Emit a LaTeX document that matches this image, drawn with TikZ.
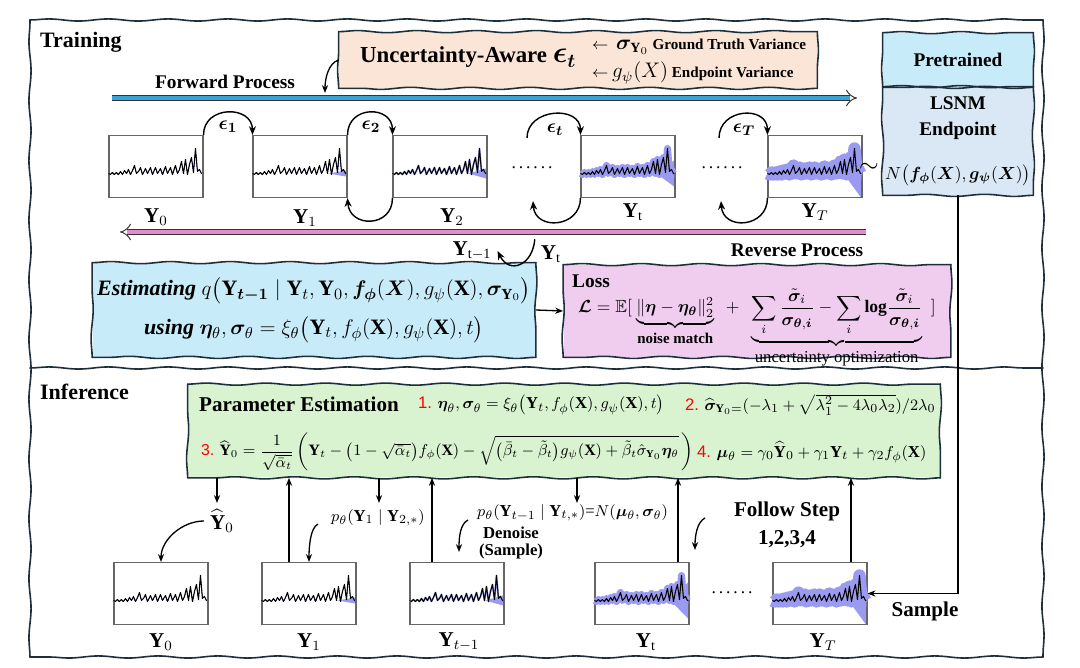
\documentclass[tikz,border=0pt]{standalone}
\usepackage{amsmath,amssymb,bm}
\usepackage{fontspec}
\setmainfont{Liberation Serif}
\newfontfamily\numfont{Liberation Sans}
\usetikzlibrary{arrows.meta,decorations.pathmorphing,positioning}

\definecolor{peach}{HTML}{FBE5D6}
\definecolor{skyfill}{HTML}{C8EBF9}
\definecolor{lsnmfill}{HTML}{DAE8F6}
\definecolor{lossfill}{HTML}{F0CCEF}
\definecolor{paramfill}{HTML}{D9F2D0}
\definecolor{fwdblue}{HTML}{3BA3D8}
\definecolor{revpink}{HTML}{E58CCF}
\definecolor{bandblue}{HTML}{9A9AF0}
\definecolor{edge}{HTML}{1E2F3C}

\def\fsz#1{\fontsize{#1}{#1}\selectfont}
\newcommand\stepno[1]{{\numfont\color{red}#1}}

% one noisy series, px units, baseline 7px under the box centre
\def\tspts{plot coordinates {(0,7) (2,8) (4,6) (6,8) (8,6) (10,8) (12,5) (14,8) (16,4) (18,7) (20,3) (22,8) (24,4) (26,-1) (28,7) (30,5) (32,1) (34,8) (37,2) (39,7) (42,1) (44,8) (47,1) (49,7) (52,2) (54,8) (57,0) (59,7) (62,1) (64,8) (67,-1) (69,7) (71,3) (73,-5) (75,7) (77,-7) (79,8) (81,-2) (83,-9) (85,6) (87,-18) (89,5) (91,3) (93,7) (94,7)}}

\newcommand\tschart[4]{%
  \node[chart] (#1) at (#2) {};
  \begin{scope}[shift={(#1.west)}]
    \fill[bandblue] (76,7) -- (93.5,{7-#4}) -- (93.5,{7+#4}) -- cycle;
    \draw[bandblue, line width=#3, line join=round] \tspts;
    \draw[line width=.6pt, line join=round] \tspts;
  \end{scope}}

% hand drawn border, one side at a time
\newcommand\sketchbox[1]{%
  \draw[sketch] (#1.north west) -- (#1.north east);
  \draw[sketch] (#1.north east) -- (#1.south east);
  \draw[sketch] (#1.south east) -- (#1.south west);
  \draw[sketch] (#1.south west) -- (#1.north west);}

\begin{document}
\begin{tikzpicture}[x=0.02cm, y=-0.02cm,
  sketch/.style={draw=edge, line width=.9pt, line cap=round, decorate, decoration={snake, amplitude=.6pt, segment length=34pt}},
  panel/.style 2 args={minimum width=#1*0.02cm, minimum height=#2*0.02cm, inner sep=0pt},
  chart/.style={draw=black!60, line width=.6pt, minimum width=94*0.02cm, minimum height=62*0.02cm, inner sep=0pt},
  epsarc/.style={-{Stealth[length=5pt,width=4pt]}, line width=.8pt},
  thinarrow/.style={-{Stealth[length=4.5pt,width=3.5pt]}, line width=.75pt},
  fwdbar/.style={draw=black!80, line width=.55pt, double=fwdblue, double distance=2.8pt, -{Implies}},
  revbar/.style={draw=black!80, line width=.55pt, double=revpink, double distance=2.8pt, -{Implies}},
  head/.style={font=\bfseries\fsz{12.5}},
  lbl/.style={font=\bfseries\fsz{11}},
  ylbl/.style={font=\fsz{12}},
  formula/.style={inner sep=1pt}]

  \useasboundingbox (0,0) rectangle (1080,668);
  \fill[white] (0,0) rectangle (1080,668);

  % frames
  \coordinate (fa) at (30,20);
  \coordinate (fb) at (1043,20);
  \coordinate (fc) at (1043,657);
  \coordinate (fd) at (30,657);
  \coordinate (ml) at (30,368);
  \coordinate (mr) at (1043,368);
  \draw[sketch] (fa) -- (fb);
  \draw[sketch] (fb) -- (fc);
  \draw[sketch] (fc) -- (fd);
  \draw[sketch] (fd) -- (fa);
  \draw[sketch] (ml) -- (mr);

  % training
  \node[head, anchor=west] (train) at (34,42) {Training};
  \node[panel={478}{56}, fill=peach] (unc) at (578,60) {};
  \sketchbox{unc}
  \node[anchor=west, font=\bfseries\fsz{13}] (unctxt) at (354,57) {Uncertainty-Aware {\fsz{16}$\bm{\epsilon_t}$}};
  \node[anchor=west, font=\bfseries\fsz{8.6}] (gtv) at (586,47) {$\leftarrow$\ \ {\fsz{12}$\bm{\sigma}_{\mathbf{Y}_0}$} Ground Truth Variance};
  \node[anchor=west, font=\bfseries\fsz{8.6}] (epv) at (586,73) {$\leftarrow$ {\fsz{12}$g_{\psi}(X)$} Endpoint Variance};

  \coordinate (fs) at (112,98);
  \coordinate (fe) at (857,98);
  \draw[fwdbar] (fs) -- (fe);
  \node[lbl] (fwd) at (225,82) {Forward Process};
  \coordinate (uncend) at (325,93);
  \draw[thinarrow] (unc.west) .. controls +(-10,3) and +(0,-15) .. (uncend);

  \tschart{Y0t}{156,166.5}{0pt}{0}
  \tschart{Y1t}{300,166.5}{0pt}{3}
  \tschart{Y2t}{440,166.5}{1pt}{5}
  \tschart{Ytt}{628,166.5}{4pt}{13}
  \tschart{YTt}{815,166.5}{7pt}{24}

  \node[ylbl] (y0t) at (156,217) {$\mathbf{Y}_0$};
  \node[ylbl] (y1t) at (305,218) {$\mathbf{Y}_1$};
  \node[ylbl] (y2t) at (452,217) {$\mathbf{Y}_2$};
  \node[ylbl] (ytt) at (633,212) {$\mathbf{Y}_{\mathrm{t}}$};
  \node[ylbl] (yTt) at (815,212) {$\mathbf{Y}_T$};

  \node (dots1) at (532,168) {.\,.\,.\,.\,.\,.};
  \node (dots2) at (722,168) {.\,.\,.\,.\,.\,.};

  \coordinate (et) at (527,138);
  \coordinate (eT) at (719,138);
  \coordinate (lt) at (533,201);
  \coordinate (lT) at (721,201);
  \draw[epsarc] (Y0t.north east) .. controls +(0,-30) and +(0,-30) .. (Y1t.north west);
  \draw[epsarc] (Y1t.north east) .. controls +(0,-30) and +(0,-30) .. (Y2t.north west);
  \draw[epsarc] (et) .. controls +(0,-30) and +(0,-30) .. (Ytt.north west);
  \draw[epsarc] (eT) .. controls +(0,-30) and +(0,-30) .. (YTt.north west);
  \draw[epsarc] (Y2t.south west) .. controls +(0,30) and +(2,30) .. (Y1t.south east);
  \draw[epsarc] (Ytt.south west) .. controls +(0,30) and +(2,30) .. (lt);
  \draw[epsarc] (YTt.south west) .. controls +(0,30) and +(2,30) .. (lT);
  \node[font=\fsz{11}] (e1) at (228,127) {$\bm{\epsilon_1}$};
  \node[font=\fsz{11}] (e2) at (371,127) {$\bm{\epsilon_2}$};
  \node[font=\fsz{11}] (et l) at (555,130) {$\bm{\epsilon_t}$};
  \node[font=\fsz{11}] (eT l) at (744,130) {$\bm{\epsilon_T}$};

  % pretrained endpoint
  \node[panel={150}{54}, fill=skyfill, lbl] (pre) at (958,60) {Pretrained};
  \node[panel={150}{108}, fill=lsnmfill, align=center, font=\fsz{10}] (lsnm) at (958,141)
    {{\fsz{11}\textbf{LSNM}}\\[5pt]{\fsz{11}\textbf{Endpoint}}\\[13pt]$N\bigl(\bm{f}_{\bm{\phi}}(\bm{X}),\bm{g}_{\bm{\psi}}(\bm{X})\bigr)$};
  \sketchbox{pre}
  \sketchbox{lsnm}
  \node[font=\fsz{14}] (tilde) at (869,168) {$\sim$};

  % reverse process
  \coordinate (rs) at (866,232);
  \coordinate (re) at (120,232);
  \draw[revbar] (rs) -- (re);
  \node[lbl] (revl) at (797,250) {Reverse Process};

  % estimation and loss
  \node[panel={443}{94}, fill=skyfill, align=center, font=\fsz{12.5}] (est) at (314,310)
    {\textbf{\textit{Estimating}} $q\bigl(\mathbf{Y}_{\bm{t-1}}\mid\mathbf{Y}_t,\mathbf{Y}_0,\bm{f}_{\bm{\phi}}(\bm{X}),g_\psi(\mathbf{X}),\bm{\sigma}_{\mathbf{Y}_0}\bigr)$\\[6pt]
     \textbf{\textit{using}} $\bm{\eta}_\theta,\bm{\sigma}_\theta=\xi_\theta\bigl(\mathbf{Y}_t,f_\phi(\mathbf{X}),g_\psi(\mathbf{X}),t\bigr)$};
  \sketchbox{est}
  \node[ylbl] (ytm) at (472,251) {$\mathbf{Y}_{\mathrm{t-1}}$};
  \node[ylbl] (ytr) at (551,254) {$\mathbf{Y}_{\mathrm{t}}$};
  \draw[epsarc] (ytr.north west) .. controls +(-2,26) and +(12,24) .. (ytm.east);

  \node[panel={387}{92}, fill=lossfill] (loss) at (757,311) {};
  \sketchbox{loss}
  \node[lbl, anchor=west] (losst) at (566,281) {Loss};
  \node[formula, anchor=base, font=\fsz{10}] (lossf) at (757,313)
    {$\displaystyle\bm{\mathcal{L}}=\mathbb{E}[\ \underbrace{\|\bm{\eta}-\bm{\eta}_{\bm{\theta}}\|_2^2}_{\textbf{\fsz{8.5}noise match}}\ \ +\ \ \underbrace{\sum_i\frac{\tilde{\bm{\sigma}}_i}{\bm{\sigma}_{\bm{\theta},\bm{i}}}-\sum_i\mathbf{log}\frac{\tilde{\bm{\sigma}}_i}{\bm{\sigma}_{\bm{\theta},\bm{i}}}}_{\text{\fsz{9.5}uncertainty optimization}}\ \ ]$};
  \draw[thinarrow] (est.east) -- (loss.west);

  % inference
  \node[head, anchor=west] (infer) at (34,392) {Inference};
  \node[panel={752}{93}, fill=paramfill] (param) at (564,431) {};
  \sketchbox{param}
  \node[anchor=west, font=\bfseries\fsz{12}] (pe) at (193,404) {Parameter Estimation};
  \node[formula, anchor=west, font=\fsz{9.5}] (s1) at (416,405)
    {\stepno{1.} $\bm{\eta}_\theta,\bm{\sigma}_\theta=\xi_\theta\bigl(\mathbf{Y}_t,f_\phi(\mathbf{X}),g_\psi(\mathbf{X}),t\bigr)$};
  \node[formula, anchor=west, font=\fsz{9.5}] (s2) at (683,405)
    {\stepno{2.} $\widehat{\bm{\sigma}}_{\mathbf{Y}_0=}(-\lambda_1+\sqrt{\lambda_1^2-4\lambda_0\lambda_2})/2\lambda_0$};
  \node[formula, anchor=west, font=\fsz{9}] (s3) at (199,452)
    {\stepno{3.} $\widehat{\mathbf{Y}}_0=\dfrac{1}{\sqrt{\bar{\alpha}_t}}\left(\mathbf{Y}_t-\bigl(1-\sqrt{\bar{\alpha}_t}\bigr)f_\phi(\mathbf{X})-\sqrt{\bigl(\bar{\beta}_t-\tilde{\beta}_t\bigr)g_\psi(\mathbf{X})+\tilde{\beta}_t\hat{\sigma}_{\mathbf{Y}_0}\bm{\eta}_\theta}\,\right)$};
  \node[formula, anchor=west, font=\fsz{9.5}] (s4) at (695,452)
    {\stepno{4.} $\bm{\mu}_\theta=\gamma_0\widehat{\mathbf{Y}}_0+\gamma_1\mathbf{Y}_t+\gamma_2f_\phi(\mathbf{X})$};

  \tschart{Y0i}{161,593.5}{0pt}{0}
  \tschart{Y1i}{309,593.5}{0pt}{3}
  \tschart{Yt1i}{457,593.5}{1pt}{5}
  \tschart{Yti}{642,593.5}{4pt}{18}
  \tschart{YTi}{820,593.5}{7pt}{24}

  \node[ylbl] (y0i) at (161,642) {$\mathbf{Y}_0$};
  \node[ylbl] (y1i) at (309,642) {$\mathbf{Y}_1$};
  \node[ylbl] (yt1i) at (459,642) {$\mathbf{Y}_{t-1}$};
  \node[ylbl] (yti) at (646,642) {$\mathbf{Y}_{\mathrm{t}}$};
  \node[ylbl] (yTi) at (823,642) {$\mathbf{Y}_T$};
  \node (dots3) at (732,593) {.\,.\,.\,.\,.\,.};

  \coordinate (d1) at (217,503);
  \coordinate (d2) at (379,503);
  \coordinate (d3) at (577,503);
  \foreach \d in {d1,d2,d3}
    \draw[thinarrow] (param.south -| \d) -- (\d);
  \coordinate (u1) at (289,562);
  \coordinate (u2) at (432,562);
  \coordinate (u3) at (678,562);
  \coordinate (u4) at (851,562);
  \foreach \u in {u1,u2,u3,u4}
    \draw[thinarrow] (\u) -- (\u |- param.south);

  \node[ylbl] (y0hat) at (222,521) {$\widehat{\mathbf{Y}}_0$};
  \draw[thinarrow] (y0hat.west) .. controls +(-22,0) and +(0,-22) .. (Y0i.north);
  \node[font=\fsz{9.5}] (p1) at (378,518) {$p_\theta(\mathbf{Y}_1\mid\mathbf{Y}_{2,*})$};
  \coordinate (c1) at (318,524);
  \draw[thinarrow] (c1) .. controls +(-8,4) and +(0,-14) .. (Y1i.north);
  \node[anchor=west, font=\fsz{9.5}] (p2) at (471,513) {$p_\theta(\mathbf{Y}_{t-1}\mid\mathbf{Y}_{t,*})$=$N(\bm{\mu}_\theta,\bm{\sigma}_\theta)$};
  \node[align=center, font=\bfseries\fsz{9.5}] (den) at (511,543) {Denoise\\(Sample)};
  \coordinate (c2) at (468,520);
  \coordinate (c2e) at (459,552);
  \draw[thinarrow] (c2) .. controls +(-8,4) and +(0,-14) .. (c2e);
  \coordinate (c3) at (705,518);
  \coordinate (c3e) at (695,550);
  \draw[thinarrow] (c3) .. controls +(-8,4) and +(0,-14) .. (c3e);
  \node[align=center, font=\bfseries\fsz{12}] (follow) at (787,525) {Follow Step\\[4pt]1,2,3,4};

  \draw[thinarrow] (lsnm.south) |- (YTi.east);
  \node[font=\bfseries\fsz{12}] (samp) at (925,611) {Sample};
\end{tikzpicture}
\end{document}
